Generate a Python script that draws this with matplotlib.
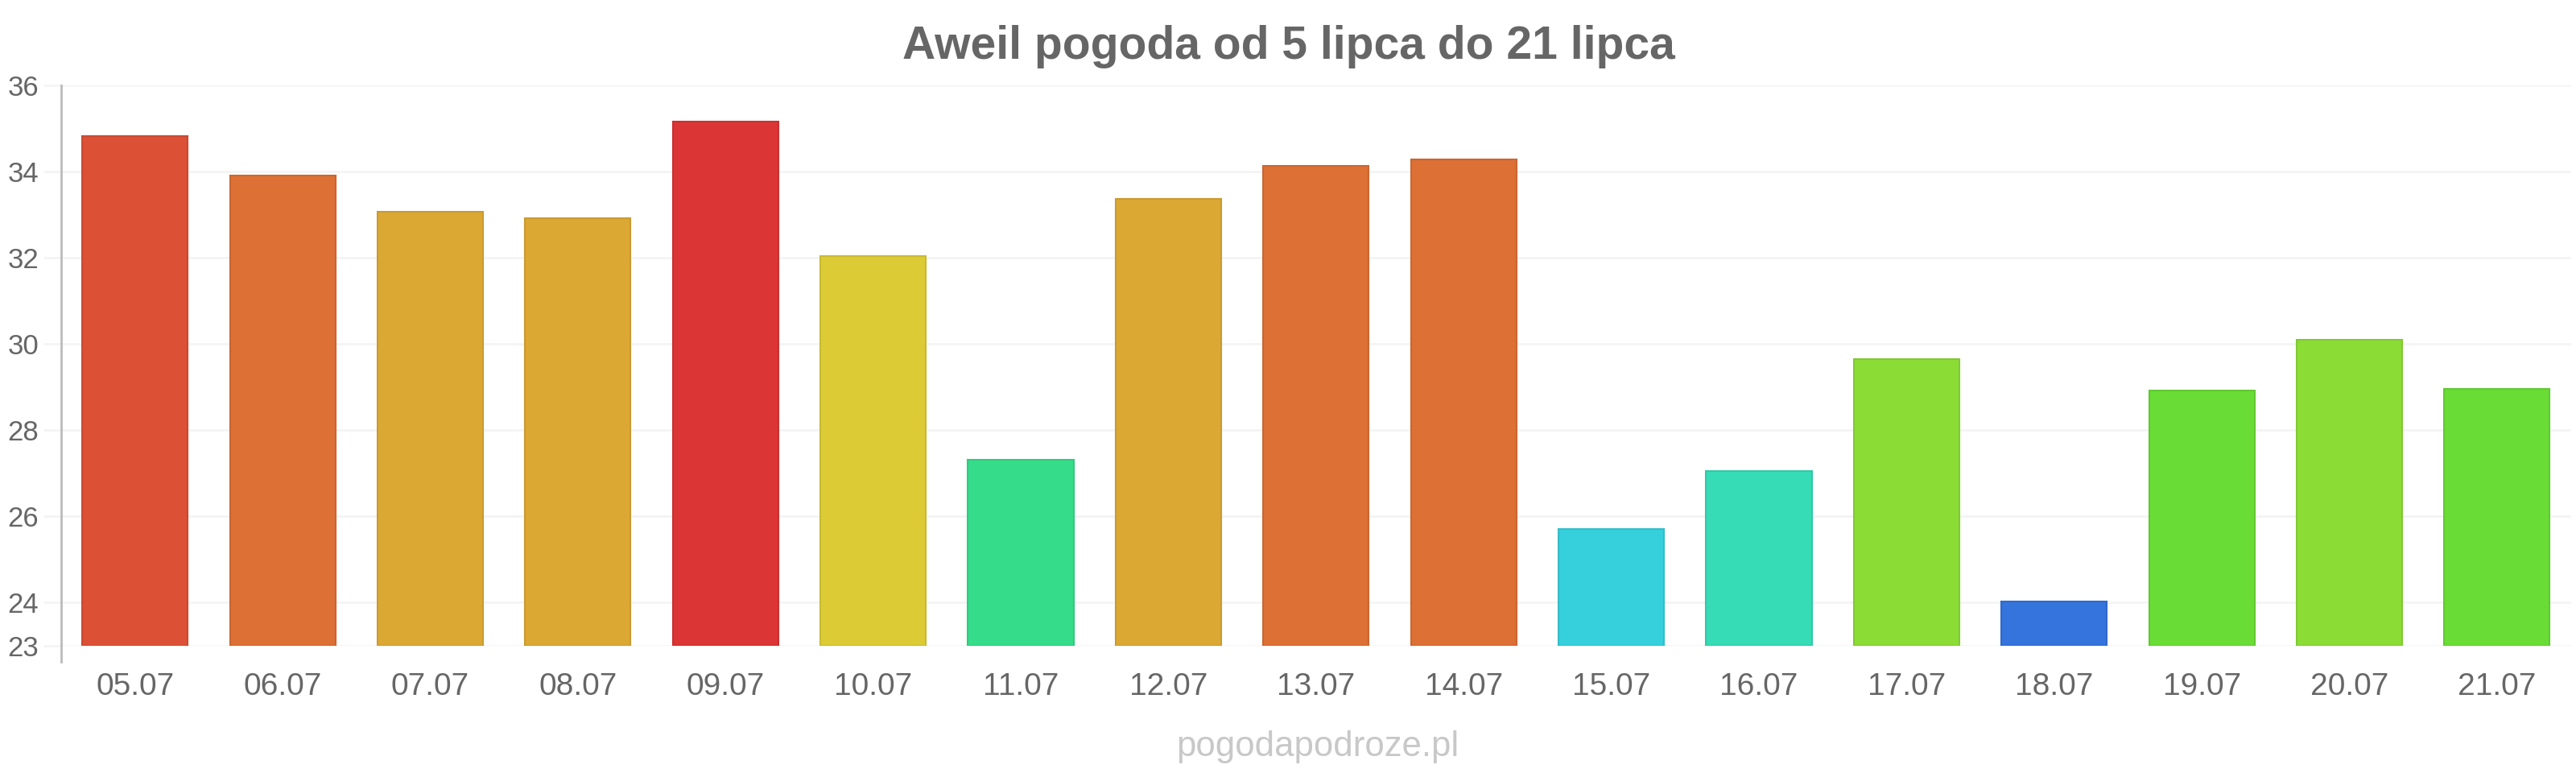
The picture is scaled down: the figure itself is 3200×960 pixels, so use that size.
import matplotlib
matplotlib.use('Agg')
import matplotlib.pyplot as plt
import numpy as np

# data
days = ['05.07', '06.07', '07.07', '08.07', '09.07', '10.07', '11.07', '12.07', '13.07',
        '14.07', '15.07', '16.07', '17.07', '18.07', '19.07', '20.07', '21.07']
temps = [34.82, 33.9, 33.06, 32.91, 35.16, 32.04, 27.31, 33.37, 34.13,
         34.28, 25.71, 27.05, 29.64, 24.03, 28.92, 30.09, 28.95]
colors = ['#dc5036', '#dd7035', '#dca834', '#dca834', '#dc3535', '#dccb35', '#35dc8a',
          '#dca834', '#dd7035', '#dd7035', '#36cfdc', '#35dcb6', '#8cdc36', '#3574dc',
          '#6adc36', '#8cdc36', '#6adc36']
edges = ['#c94a32', '#c96631', '#c99a30', '#c99a30', '#c93131', '#c9ba31', '#31c97e',
         '#c99a30', '#c96631', '#c96631', '#32bdc9', '#31c9a6', '#80c932', '#3169c9',
         '#61c932', '#80c932', '#61c932']
yticks = [23, 24, 26, 28, 30, 32, 34, 36]

plt.rcParams['font.family'] = ['Liberation Sans', 'DejaVu Sans']

fig = plt.figure(figsize=(32, 9.6), dpi=100)
ax = fig.add_axes([0.02375, 0.1646, 0.97425, 0.725])

x = np.arange(len(days))
ax.bar(x, [t - 23 for t in temps], bottom=23, width=0.715, color=colors,
       edgecolor=edges, linewidth=1.5, zorder=3)

ax.set_xlim(-0.5, len(days) - 0.5)
ax.set_ylim(23, 36)
ax.set_yticks(yticks)
ax.set_xticks(x)
ax.set_xticklabels(days)

ax.grid(axis='y', color='#f4f4f4', linewidth=2, zorder=0)
ax.tick_params(axis='y', length=16, width=2, color='#f4f4f4', pad=4,
               labelsize=25, labelcolor='#666666')
ax.tick_params(axis='x', length=0, pad=24, labelsize=28, labelcolor='#666666')

for s in ['top', 'right', 'bottom']:
    ax.spines[s].set_visible(False)
ax.spines['left'].set_color('#bbbbbb')
ax.spines['left'].set_linewidth(2)
ax.spines['left'].set_bounds(22.62, 36)

fig.text(0.5003, 1 - 73 / 960, 'Aweil pogoda od 5 lipca do 21 lipca', ha='center',
         va='baseline', fontsize=41, fontweight='bold', color='#666666')
fig.text(0.5115, 1 - 927 / 960, 'pogodapodroze.pl', ha='center', va='center',
         fontsize=31.5, color='#c8c8c8')

fig.savefig('out.png', dpi=100, facecolor='white')
